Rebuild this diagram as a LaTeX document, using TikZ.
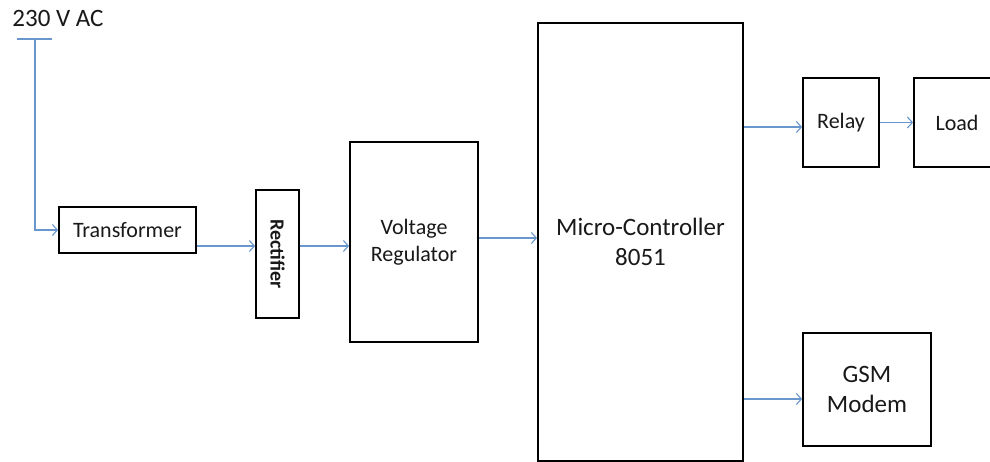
\documentclass[tikz,border=0pt]{standalone}
\usepackage{fontspec}
\setmainfont{Carlito}
\usetikzlibrary{arrows.meta}
\definecolor{conncol}{RGB}{105,150,205}
\definecolor{txtcol}{RGB}{25,25,25}
\tikzset{
  blk/.style={draw=black, line width=1.8pt, rectangle, inner sep=0pt, align=center, text=txtcol, font=\fontsize{22}{27}\selectfont},
  bigtxt/.style={font=\fontsize{25}{30}\selectfont},
  conn/.style={draw=conncol, line width=1.2pt, -{Straight Barb[length=5pt,width=11pt,line width=1.1pt]}},
  wire/.style={draw=conncol, line width=1.2pt}
}
\begin{document}
\begin{tikzpicture}[x=1pt,y=-1pt]
\clip (0,0) rectangle (990,462);
\fill[white] (0,0) rectangle (990,462);

\node[text=txtcol, font=\fontsize{25}{30}\selectfont, inner sep=0pt] (ac) at (58,18) {230 V AC};
\coordinate (barL) at (17,39);
\coordinate (barR) at (52,39);
\coordinate (top) at (35,39);

\node[blk, minimum width=137pt, minimum height=46pt] (trans) at (127.5,230) {Transformer};
\node[blk, minimum width=43pt, minimum height=128pt] (rect) at (277.5,254) {};
\node[text=txtcol, font=\fontsize{20}{24}\selectfont\bfseries, rotate=-90, inner sep=0pt] (recttxt) at (rect.center) {Rectifier};
\node[blk, minimum width=128pt, minimum height=200pt] (vr) at (414,242) {Voltage\\Regulator};
\node[blk, bigtxt, minimum width=205pt, minimum height=438pt] (mc) at (640.5,242) {Micro-Controller\\8051};
\node[blk, minimum width=76pt, minimum height=89pt] (relay) at (841,122.5) {Relay};
\node[blk, minimum width=86pt, minimum height=89pt] (load) at (957,122.5) {Load};
\node[blk, bigtxt, minimum width=128pt, minimum height=113pt] (gsm) at (867,389.5) {GSM\\Modem};

\draw[wire] (barL) -- (barR);
\draw[conn] (top) |- (trans.west);
\draw[conn] ([yshift=-16pt]trans.east) -- ([yshift=-16pt]trans.east -| rect.west);
\draw[conn] ([yshift=8pt]rect.east) -- ([yshift=8pt]rect.east -| vr.west);
\draw[conn] ([yshift=4pt]vr.east) -- ([yshift=4pt]vr.east -| mc.west);
\draw[conn] ([yshift=-4.5pt]relay.west -| mc.east) -- ([yshift=-4.5pt]relay.west);
\draw[conn] (relay.east) -- (load.west);
\draw[conn] ([yshift=-9.5pt]gsm.west -| mc.east) -- ([yshift=-9.5pt]gsm.west);
\end{tikzpicture}
\end{document}
